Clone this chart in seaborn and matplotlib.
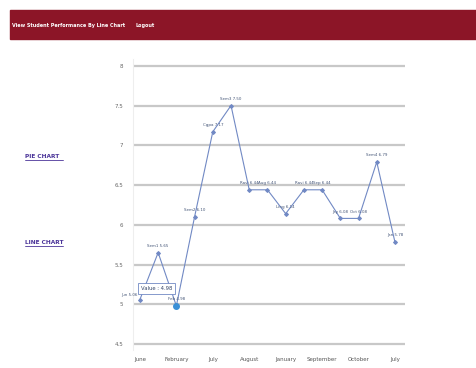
import seaborn as sns
import matplotlib.pyplot as plt
import pandas as pd

# data (15 points, labels on every other point)
point_names = ['Jun', 'Sem1', 'Feb', 'Sem2', 'Cgpa', 'Sem3', 'Ravi', 'Aug',
               'Ling', 'Ravi', 'Sep', 'Jay', 'Oct', 'Sem4', 'Jan']
gpa_values = [5.06, 5.65, 4.98, 6.10, 7.17, 7.50, 6.44, 6.44,
              6.14, 6.44, 6.44, 6.08, 6.08, 6.79, 5.78]
tick_labels = ['June', 'February', 'July', 'August', 'January',
               'September', 'October', 'July']
y_ticks = [4.5, 5, 5.5, 6, 6.5, 7, 7.5, 8]

df = pd.DataFrame({'pos': range(len(gpa_values)), 'gpa': gpa_values})

sns.set_style('white')
fig = plt.figure(figsize=(4.77, 3.68), dpi=100)

# header bar
fig.patches.append(plt.Rectangle((10 / 477, 1 - 39 / 368), 1, 29 / 368,
                                 transform=fig.transFigure, color='#8c1527', zorder=0))
fig.text(12 / 477, 1 - 25 / 368, 'View Student Performance By Line Chart', color='white',
         fontsize=3.5, fontweight='bold', va='center')
fig.text(136 / 477, 1 - 25 / 368, 'Logout', color='white', fontsize=3.5,
         fontweight='bold', va='center')

# side links
for label, ypx in [('PIE CHART', 156), ('LINE CHART', 242)]:
    fig.text(25 / 477, 1 - ypx / 368, label, color='#4b3499', fontsize=4.2,
             fontweight='bold', va='center')
    fig.add_artist(plt.Line2D([25 / 477, 63 / 477], [1 - (ypx + 4) / 368] * 2,
                              color='#4b3499', lw=0.6))

ax = fig.add_axes([133 / 477, 1 - 350.4 / 368, 272 / 477, 291 / 368])
sns.lineplot(data=df, x='pos', y='gpa', ax=ax, color='#7189c4', lw=0.8,
             marker='D', markersize=2, markeredgecolor='#7189c4')

ax.set_xlim(-0.38, 14.55)
ax.set_ylim(4.42, 8.08)
ax.set_yticks(y_ticks)
ax.set_yticklabels([str(v) for v in y_ticks], fontsize=4, color='#666666')
ax.set_xticks(range(0, len(gpa_values), 2))
ax.set_xticklabels(tick_labels, fontsize=4, color='#555555')
ax.tick_params(axis='y', length=5, color='#bbbbbb', width=1.5, pad=2)
ax.tick_params(axis='x', length=0, pad=5)
ax.set_xlabel('')
ax.set_ylabel('')
ax.grid(axis='y', color='#c8c8c8', lw=1.6)
ax.set_axisbelow(True)
for side in ['top', 'right', 'bottom']:
    ax.spines[side].set_visible(False)
ax.spines['left'].set_color('#eeeeee')

# value labels above each point (first one sits to the left, clear of the tooltip)
for i, (n, v) in enumerate(zip(point_names, gpa_values)):
    if i == 0:
        ax.annotate(f'{n} {v:.2f}', (i, v), xytext=(-2, 2), textcoords='offset points',
                    ha='right', va='bottom', fontsize=2.9, color='#445577')
    else:
        ax.annotate(f'{n} {v:.2f}', (i, v), xytext=(0, 3.5), textcoords='offset points',
                    ha='center', va='bottom', fontsize=2.9, color='#445577')

# highlighted point and its tooltip
ax.plot(2, gpa_values[2], marker='o', markersize=4, color='#3a8fd6')
ax.annotate(f'Value : {gpa_values[2]:.2f}', (0.9, 5.2), ha='center', va='center',
            fontsize=3.8, color='#334466',
            bbox=dict(boxstyle='square,pad=0.5', fc='white', ec='#7189c4', lw=0.6))

fig.savefig('out.png', dpi=100)
